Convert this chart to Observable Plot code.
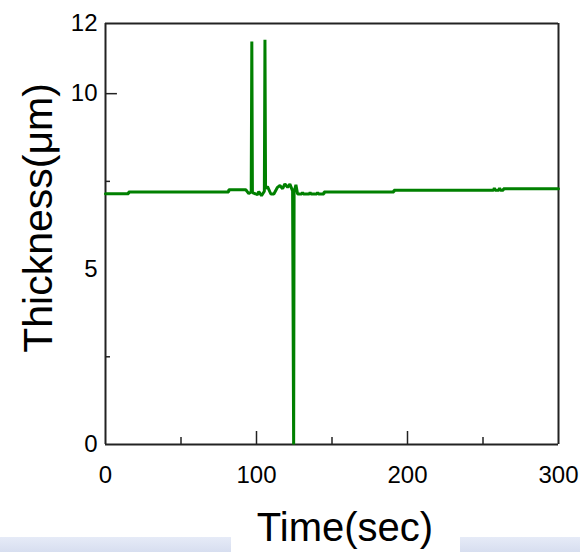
<!DOCTYPE html>
<html><head><meta charset="utf-8">
<script src="https://cdn.jsdelivr.net/npm/d3@7"></script>
<script src="https://cdn.jsdelivr.net/npm/@observablehq/plot@0.6"></script>
<style>
body{margin:0;background:#fff;}
#wrap{position:relative;width:580px;height:552px;overflow:hidden;}
#band{position:absolute;left:0;top:537px;width:580px;height:15px;background:linear-gradient(#e6ebf7,#d7def0);}
#box{position:absolute;left:231px;top:530px;width:229px;height:22px;background:#fff;}
#chart{position:absolute;left:0;top:0;}
</style></head><body>
<div id="wrap"><div id="band"></div><div id="box"></div><div id="chart"></div></div>
<script>
const times = [0, 15.3, 15.3, 81.6, 81.6, 92.9, 94.9, 96.5, 96.9, 97.3, 98.5, 100.7, 101.5, 103.3, 105.2, 105.6, 106.0, 107.3, 109.5, 111.5, 113.9, 115.5, 117.3, 118.8, 120.6, 122.1, 123.9, 124.6, 124.9, 126.1, 127.2, 130, 130.5, 131, 135, 135.5, 136, 140, 140.5, 141, 144.7, 144.7, 191, 191, 257, 257.5, 258, 260.5, 261, 261.5, 263.5, 263.5, 300];
const thickness = [7.15, 7.15, 7.20, 7.20, 7.26, 7.26, 7.15, 7.20, 11.49, 7.18, 7.16, 7.12, 7.21, 7.09, 7.22, 11.54, 7.30, 7.35, 7.14, 7.14, 7.33, 7.38, 7.29, 7.43, 7.33, 7.42, 7.23, 0, 7.20, 7.40, 7.14, 7.14, 7.19, 7.14, 7.14, 7.19, 7.14, 7.14, 7.19, 7.14, 7.14, 7.20, 7.20, 7.25, 7.25, 7.31, 7.25, 7.25, 7.31, 7.25, 7.25, 7.29, 7.29];
const xTickLabels = [0, 100, 200, 300];
const yTickLabels = [0, 5, 10, 12];
const xMajorTicks = [100, 200];
const xMinorTicks = [50, 150, 250];
const yMajorTicks = [10];
const yMinorTicks = [2.5, 7.5];
const xTitle = "Time(sec)";
const yTitle = "Thickness(\u03bcm)";

const data = times.map((t, i) => ({t, v: thickness[i]}));
const frameColor = "#222";

const chart = Plot.plot({
  width: 580, height: 552,
  marginLeft: 105, marginRight: 22, marginTop: 23, marginBottom: 108,
  x: {domain: [0, 300]},
  y: {domain: [0, 12]},
  style: {background: "transparent", fontFamily: "'Liberation Sans', Arial, sans-serif", color: "#000", overflow: "visible"},
  marks: [
    Plot.ruleX(xMajorTicks, {x: d => d, y1: 0, y2: 0.37, stroke: frameColor, strokeWidth: 1.5}),
    Plot.ruleX(xMinorTicks, {x: d => d, y1: 0, y2: 0.2, stroke: frameColor, strokeWidth: 1.5}),
    Plot.ruleY(yMajorTicks, {y: d => d, x1: 0, x2: 7.9, stroke: frameColor, strokeWidth: 1.5}),
    Plot.ruleY(yMinorTicks, {y: d => d, x1: 0, x2: 3.3, stroke: frameColor, strokeWidth: 1.5}),
    Plot.ruleX([0, 300], {stroke: frameColor, strokeWidth: 2}),
    Plot.ruleY([0, 12], {stroke: frameColor, strokeWidth: 2}),
    Plot.line(data, {x: "t", y: "v", stroke: "#008000", strokeWidth: 3, strokeLinejoin: "bevel"}),
    Plot.axisX(xTickLabels, {tickSize: 0, tickPadding: 21, fontSize: 24, label: null}),
    Plot.axisY(yTickLabels, {tickSize: 0, tickPadding: 8, fontSize: 24, label: null}),
    Plot.text([xTitle], {text: d => d, frameAnchor: "bottom", textAnchor: "middle", lineAnchor: "middle", dx: 13, dy: 84, fontSize: 40}),
    Plot.text([yTitle], {text: d => d, frameAnchor: "left", textAnchor: "middle", lineAnchor: "middle", rotate: -90, dx: -67, dy: -16, fontSize: 41})
  ]
});
document.getElementById("chart").appendChild(chart);
</script>
</body></html>
